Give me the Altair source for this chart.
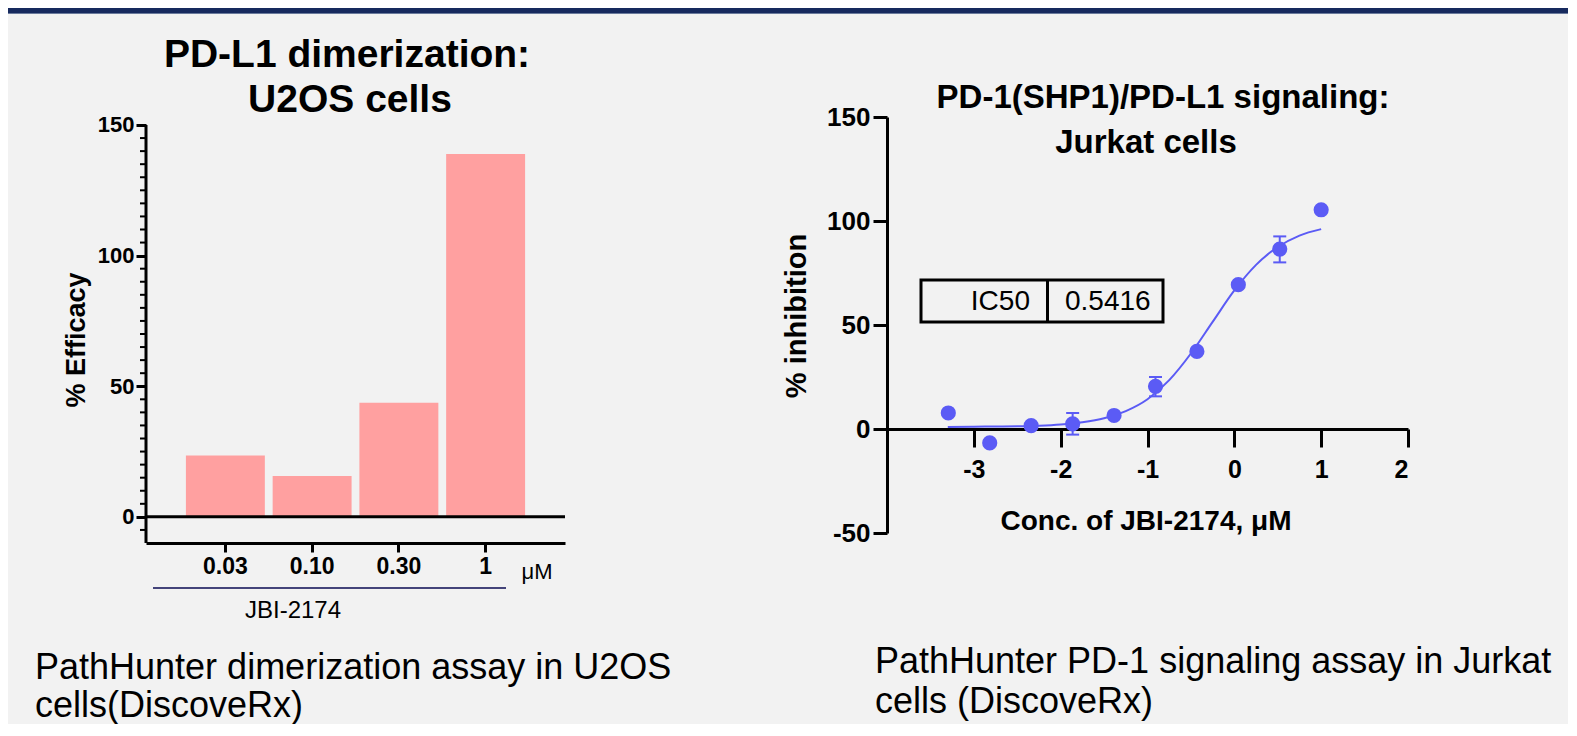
import altair as alt
import pandas as pd

FONT = "Liberation Sans"
BLUE = "#5b5bf5"
PINK = "#ffa0a0"

# ---------------- left panel data (bar chart) ----------------
doses = ["0.03", "0.10", "0.30", "1"]
efficacy = [23.5, 15.6, 43.7, 138.9]
left_major_ticks = [0, 50, 100, 150]
left_minor_ticks = [-5, 5, 10, 15, 20, 25, 30, 35, 40, 45, 55, 60, 65, 70, 75,
                    80, 85, 90, 95, 105, 110, 115, 120, 125, 130, 135, 140, 145]
left_axis_extent = [-10, 150]

# ---------------- right panel data (dose response) ----------------
log_conc = [-3.294, -2.817, -2.340, -1.862, -1.385, -0.908, -0.431, 0.046, 0.523, 1.0]
inhibition = [7.7, -6.7, 1.6, 2.5, 6.5, 20.5, 37.3, 69.4, 86.5, 105.4]
err_log_conc = [-1.862, -0.908, 0.523]
err_low = [-2.7, 15.7, 80.1]
err_high = [7.7, 25.0, 92.6]
fit_log_conc = [-3.3, -3.0, -2.75, -2.5, -2.25, -2.0, -1.75, -1.5, -1.25, -1.0,
                -0.75, -0.5, -0.25, 0.0, 0.25, 0.5, 0.75, 1.0]
fit_inhibition = [1.0, 1.1, 1.2, 1.3, 1.6, 2.2, 3.3, 5.2, 8.6, 14.3,
                  23.5, 36.3, 51.5, 66.6, 78.9, 87.5, 93.0, 96.1]
right_x_ticks = [-3, -2, -1, 0, 1, 2]
right_y_ticks = [-50, 0, 50, 100, 150]

# ---------------- layout (pixels) ----------------
LW, LH = 419, 426
RW, RH = 521, 416
one = pd.DataFrame({"k": [0]})


def label(text, x, y, size, weight="normal", align="center",
          baseline="alphabetic", angle=0, color="black"):
    return alt.Chart(one).mark_text(
        text=text, font=FONT, fontSize=size, fontWeight=weight, align=align,
        baseline=baseline, angle=angle, color=color
    ).encode(x=alt.value(x), y=alt.value(y))


def box(x, x2, y, y2, fill="black", opacity=1.0, stroke="black", sw=0):
    return alt.Chart(one).mark_rect(
        fill=fill, fillOpacity=opacity, stroke=stroke, strokeWidth=sw
    ).encode(x=alt.value(x), x2=alt.value(x2), y=alt.value(y), y2=alt.value(y2))


# ================= LEFT PANEL =================
ly = alt.Scale(domain=[-10, 153.06], nice=False, zero=False)
lx = alt.Scale(paddingInner=0.09, paddingOuter=0.46)

L_XAXIS = alt.Axis(
    title=None, labelAngle=0, labelFont=FONT, labelFontSize=23, labelFontWeight="bold",
    labelColor="black", labelPadding=3, tickSize=9, tickWidth=3, tickColor="black",
    domainWidth=3, domainColor="black", zindex=1)
L_YAXIS = alt.Axis(
    title=None, values=left_major_ticks, domain=False, tickSize=10, tickWidth=3,
    tickColor="black", labelFont=FONT, labelFontSize=22, labelFontWeight="bold",
    labelColor="black", labelPadding=2, grid=False, zindex=1)

bars = alt.Chart(pd.DataFrame({"dose": doses, "eff": efficacy, "base": [0] * 4})).mark_bar(
    color=PINK
).encode(
    x=alt.X("dose:N", sort=doses, scale=lx, axis=L_XAXIS),
    y=alt.Y("eff:Q", scale=ly, axis=L_YAXIS),
    y2="base:Q",
)

minor = alt.Chart(pd.DataFrame({"v": left_minor_ticks})).mark_rule(
    color="black", strokeWidth=2
).encode(y=alt.Y("v:Q", scale=ly, axis=L_YAXIS), x=alt.value(-6), x2=alt.value(0))

zero_line = alt.Chart(pd.DataFrame({"z": [0]})).mark_rule(color="black", strokeWidth=3).encode(
    y=alt.Y("z:Q", scale=ly, axis=L_YAXIS), x=alt.value(0), x2=alt.value(LW))

yaxis_line = alt.Chart(pd.DataFrame({"lo": [left_axis_extent[0]], "hi": [left_axis_extent[1]]})).mark_rule(
    color="black", strokeWidth=3
).encode(y=alt.Y("lo:Q", scale=ly, axis=L_YAXIS), y2="hi:Q", x=alt.value(0))

left = alt.layer(
    box(-138, 1422, -109, 603, fill="#f2f2f2", opacity=0, stroke="#f2f2f2"),
    box(-138, 1422, -109, -104, fill="#172a5e", stroke="#172a5e"),
    box(-138, 1422, -104, -103, fill="#6a7a9c", stroke="#6a7a9c"),
    bars, minor, zero_line, yaxis_line,
    label("PD-L1 dimerization:", 201, -50, 39, "bold"),
    label("U2OS cells", 204, -5, 39, "bold"),
    label("% Efficacy", -69, 223, 27, "bold", baseline="middle", angle=270),
    label("\u03bcM", 391, 455, 22, baseline="middle"),
    box(7, 360, 470, 472, fill="#44447a", stroke="#44447a"),
    label("JBI-2174", 147, 494, 24, baseline="middle"),
    label("PathHunter dimerization assay in U2OS", -111, 562, 36, align="left"),
    label("cells(DiscoveRx)", -111, 600, 36, align="left"),
).properties(width=LW, height=LH)

# ================= RIGHT PANEL =================
rx = alt.Scale(domain=[-4, 2], nice=False, zero=False)
ry = alt.Scale(domain=[-50, 150], nice=False, zero=False)

R_XAXIS = alt.Axis(
    title=None, values=right_x_ticks, offset=-104, labelExpr="'' + datum.value",
    labelFont=FONT, labelFontSize=25, labelFontWeight="bold", labelColor="black",
    labelPadding=10, tickSize=18, tickWidth=3, tickColor="black",
    domainWidth=3, domainColor="black", grid=False, zindex=0)
R_YAXIS = alt.Axis(
    title=None, values=right_y_ticks, labelExpr="'' + datum.value",
    labelFont=FONT, labelFontSize=26, labelFontWeight="bold", labelColor="black",
    labelPadding=3, tickSize=14, tickWidth=3, tickColor="black",
    domainWidth=3, domainColor="black", grid=False, zindex=0)

fit = alt.Chart(pd.DataFrame({"x": fit_log_conc, "y": fit_inhibition})).mark_line(
    color=BLUE, strokeWidth=2, interpolate="monotone"
).encode(x=alt.X("x:Q", scale=rx, axis=R_XAXIS), y=alt.Y("y:Q", scale=ry, axis=R_YAXIS))

err_df = pd.DataFrame({"x": err_log_conc, "lo": err_low, "hi": err_high})
err = alt.Chart(err_df).mark_rule(color=BLUE, strokeWidth=2).encode(
    x=alt.X("x:Q", scale=rx, axis=R_XAXIS), y=alt.Y("lo:Q", scale=ry, axis=R_YAXIS), y2="hi:Q")
cap_lo = alt.Chart(err_df).mark_tick(
    color=BLUE, orient="horizontal", size=13, thickness=2, opacity=1
).encode(x=alt.X("x:Q", scale=rx, axis=R_XAXIS), y=alt.Y("lo:Q", scale=ry, axis=R_YAXIS))
cap_hi = alt.Chart(err_df).mark_tick(
    color=BLUE, orient="horizontal", size=13, thickness=2, opacity=1
).encode(x=alt.X("x:Q", scale=rx, axis=R_XAXIS), y=alt.Y("hi:Q", scale=ry, axis=R_YAXIS))

points = alt.Chart(pd.DataFrame({"x": log_conc, "y": inhibition})).mark_circle(
    size=230, color=BLUE, opacity=1
).encode(x=alt.X("x:Q", scale=rx, axis=R_XAXIS), y=alt.Y("y:Q", scale=ry, axis=R_YAXIS))

right = alt.layer(
    fit, err, cap_lo, cap_hi, points,
    label("PD-1(SHP1)/PD-L1 signaling:", 276, -9, 33, "bold"),
    label("Jurkat cells", 259, 36, 33, "bold"),
    label("% inhibition", -90, 199, 29, "bold", baseline="middle", angle=270),
    label("Conc. of JBI-2174, \u03bcM", 259, 413, 28, "bold"),
    box(34, 276, 163, 205, fill="white", opacity=0, stroke="black", sw=3),
    box(159, 162, 163, 205, fill="black", stroke="black"),
    label("IC50", 143, 193, 28, align="right"),
    label("0.5416", 178, 193, 28, align="left"),
    label("PathHunter PD-1 signaling assay in Jurkat", -12, 556, 36, align="left"),
    label("cells (DiscoveRx)", -12, 596, 36, align="left"),
).properties(width=RW, height=RH)

chart = alt.hconcat(left, right, spacing=322, bounds="flush", padding=0).configure(
    background="#f2f2f2"
).configure_view(stroke=None)

chart.save("out.html", embed_options={"renderer": "svg", "actions": False})
